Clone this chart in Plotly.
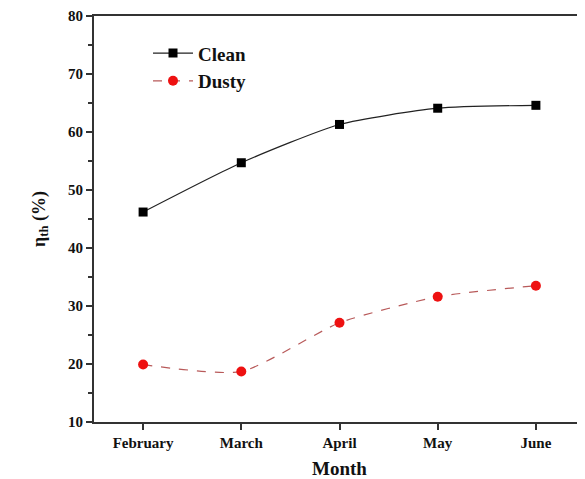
import plotly.graph_objects as go

months = ["February", "March", "April", "May", "June"]
clean = [46.2, 54.7, 61.3, 64.1, 64.6]
dusty = [19.9, 18.7, 27.1, 31.6, 33.5]
yticks = [10, 20, 30, 40, 50, 60, 70, 80]
yminor = [15, 25, 35, 45, 55, 65, 75]

font_family = "Liberation Serif"

fig = go.Figure()
fig.add_trace(go.Scatter(
    x=list(range(len(months))), y=clean, name="<b>Clean</b>",
    mode="lines+markers", line=dict(color="#222222", width=1.2, shape="spline", smoothing=0.6),
    marker=dict(symbol="square", size=9, color="black"),
))
fig.add_trace(go.Scatter(
    x=list(range(len(months))), y=dusty, name="<b>Dusty</b>",
    mode="lines+markers", line=dict(color="#b85a5a", width=1.2, dash="dash", shape="spline", smoothing=0.6),
    marker=dict(symbol="circle", size=10, color="#ee1111"),
))

fig.update_layout(
    width=577, height=471,
    margin=dict(l=86, r=0, t=8, b=57, autoexpand=False),
    plot_bgcolor="white", paper_bgcolor="white",
    font=dict(family=font_family, color="#111111"),
    showlegend=True,
    legend=dict(x=0.11, y=0.955, xanchor="left", yanchor="top",
                font=dict(family=font_family, size=19, color="#111111"),
                bgcolor="rgba(0,0,0,0)", tracegroupgap=0, itemwidth=40),
    xaxis=dict(
        range=[-0.5, 4.5], tickmode="array", tickvals=list(range(len(months))),
        ticktext=["<b>%s</b>" % m for m in months],
        tickfont=dict(family=font_family, size=15, color="#111111"),
        showline=True, mirror=True, linecolor="#333333", linewidth=2,
        ticks="outside", ticklen=6, tickwidth=2, tickcolor="#333333",
        showgrid=False, zeroline=False, automargin=False,
        title=dict(text="<b>Month</b>", font=dict(family=font_family, size=19, color="#111111"), standoff=12),
    ),
    yaxis=dict(
        range=[10, 80], tickmode="array", tickvals=yticks,
        ticktext=["<b>%d</b>" % v for v in yticks],
        tickfont=dict(family=font_family, size=15, color="#111111"),
        ticklabeloverflow="allow",
        showline=True, linecolor="#333333", linewidth=2,
        ticks="outside", ticklen=6, tickwidth=2, tickcolor="#333333",
        minor=dict(tickvals=yminor, ticks="outside", ticklen=4, tickwidth=1.5, tickcolor="#333333"),
        showgrid=False, zeroline=False, automargin=False,
        title=dict(text="<b>η<sub>th</sub> (%)</b>", font=dict(family=font_family, size=18, color="#111111"), standoff=18),
    ),
)

fig.write_html("out.html")
